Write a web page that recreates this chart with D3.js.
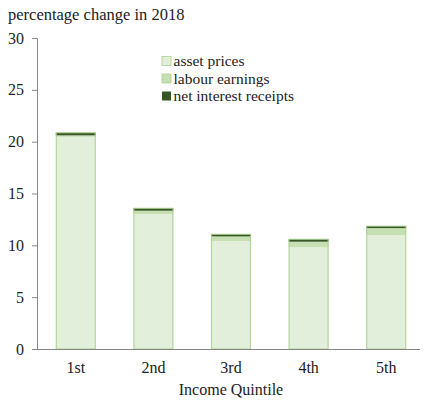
<!DOCTYPE html>
<html><head><meta charset="utf-8">
<script src="https://cdn.jsdelivr.net/npm/d3@7"></script>
<style>body{margin:0;background:#fff}svg{display:block}</style>
</head><body>
<svg id="c" width="424" height="401" font-family="Liberation Serif, serif"></svg>
<script>
const categories = ["1st","2nd","3rd","4th","5th"];
const seriesNames = ["asset prices","labour earnings","net interest receipts"];
const assetPrices = [20.47, 12.99, 10.41, 9.81, 10.99];
const labourEarnings = [0.14, 0.35, 0.45, 0.54, 0.67];
const netInterest = [0.25, 0.23, 0.2, 0.23, 0.19];
const yTicks = [0,5,10,15,20,25,30];
const colors = ["#e2efda","#c6e0b4","#375623"];

(function(){
const FONT = "Liberation Serif, serif";
const svg = d3.select("#c");
const mLeft = 37, mRight = 425, mTop = 38, mBottom = 349;
const x = d3.scaleBand().domain(categories).range([mLeft, mRight]).paddingInner(0.485).paddingOuter(0.2425);
const y = d3.scaleLinear().domain([0,30]).range([mBottom, mTop]);

const rows = categories.map((c,i)=>({cat:c, "asset prices":assetPrices[i], "labour earnings":labourEarnings[i], "net interest receipts":netInterest[i]}));
const stack = d3.stack().keys(seriesNames)(rows);

const ya = svg.append("g").attr("transform",`translate(${mLeft},0)`)
  .call(d3.axisLeft(y).tickValues(yTicks).tickSize(5).tickPadding(8));
ya.attr("font-family", FONT).attr("font-size", 16);
ya.select(".domain").attr("stroke","#868686");
ya.selectAll(".tick line").attr("stroke","#868686");
ya.selectAll(".tick text").attr("fill","#222");

stack.forEach((s,k)=>{
  svg.append("g").selectAll("rect").data(s).enter().append("rect")
    .attr("x", d=>x(d.data.cat))
    .attr("width", x.bandwidth())
    .attr("y", d=>y(d[1]))
    .attr("height", d=>y(d[0])-y(d[1]))
    .attr("fill", colors[k]);
});
svg.append("g").selectAll("rect").data(stack[0]).enter().append("rect")
  .attr("x", d=>x(d.data.cat)+0.5)
  .attr("width", x.bandwidth()-1)
  .attr("y", (d,i)=>y(stack[2][i][1]))
  .attr("height", (d,i)=>y(0)-y(stack[2][i][1]))
  .attr("fill","none").attr("stroke","#a9d08e").attr("stroke-width",1.2).attr("stroke-opacity",0.8);

svg.append("line").attr("x1",mLeft).attr("x2",420).attr("y1",y(0)+0.5).attr("y2",y(0)+0.5).attr("stroke","#868686");

const xa = svg.append("g").attr("transform",`translate(0,${mBottom})`)
  .call(d3.axisBottom(x).tickSize(0).tickPadding(13));
xa.attr("font-family", FONT).attr("font-size", 16);
xa.select(".domain").remove();
xa.selectAll(".tick text").attr("fill","#222");

svg.append("text").attr("x",231).attr("y",395).attr("text-anchor","middle")
  .attr("font-family",FONT).attr("font-size",16).attr("fill","#222").text("Income Quintile");
svg.append("text").attr("x",8).attr("y",20)
  .attr("font-family",FONT).attr("font-size",16.5).attr("fill","#222").text("percentage change in 2018");

const lg = svg.append("g");
seriesNames.forEach((n,i)=>{
  const yy = 61 + i*17.5;
  lg.append("rect").attr("x",162).attr("y",yy-4.5).attr("width",9).attr("height",9)
    .attr("fill",colors[i]).attr("stroke", i<2?"#a9d08e":"none").attr("stroke-width",0.8);
  lg.append("text").attr("x",173.5).attr("y",yy+5)
    .attr("font-family",FONT).attr("font-size",15.5).attr("fill","#222").text(n);
});
})();
</script>
</body></html>
